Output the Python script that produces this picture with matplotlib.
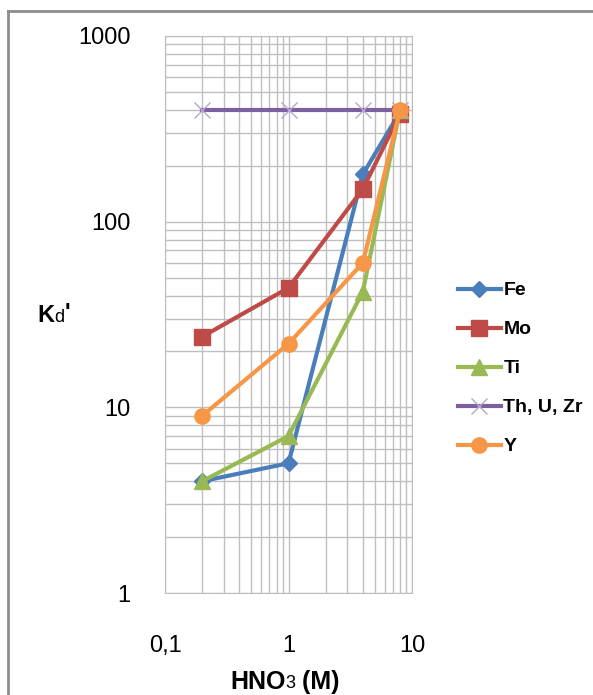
import matplotlib
matplotlib.use("Agg")
import matplotlib.pyplot as plt
from matplotlib.lines import Line2D
from matplotlib.ticker import FixedLocator, LogLocator, NullFormatter, FixedFormatter

plt.rcParams['font.family'] = ['Liberation Sans', 'DejaVu Sans']

# data
hno3 = [0.2, 1, 4, 8]
fe = [4, 5, 180, 390]
mo = [24, 44, 150, 380]
ti = [4, 7, 42, 400]
th_u_zr = [400, 400, 400, 400]
y_el = [9, 22, 60, 400]

x_ticks = [0.1, 1, 10]
x_labels = ["0,1", "1", "10"]
y_ticks = [1, 10, 100, 1000]
y_labels = ["1", "10", "100", "1000"]

W, H = 593, 695
fig = plt.figure(figsize=(W / 100, H / 100), dpi=100)
ax = fig.add_axes([165 / W, (H - 593) / H, (412 - 165) / W, (593 - 36) / H])

ax.plot(hno3, fe, color='#4A7EBB', lw=3, marker='D', ms=8, label='Fe', zorder=3)
ax.plot(hno3, mo, color='#BE4B48', lw=3, marker='s', ms=11, label='Mo', zorder=3)
ax.plot(hno3, ti, color='#98B954', lw=3, marker='^', ms=11, label='Ti', zorder=3)
ax.plot(hno3, th_u_zr, color='#7D60A0', lw=3, marker='x', ms=12, mew=1,
        mec='#B9A6D0', label='Th, U, Zr', zorder=3)
ax.plot(hno3, y_el, color='#F79646', lw=3, marker='o', ms=11, label='Y', zorder=4)

ax.set_xscale('log')
ax.set_yscale('log')
ax.set_xlim(0.1, 10)
ax.set_ylim(1, 1000)

ax.xaxis.set_major_locator(FixedLocator(x_ticks))
ax.xaxis.set_major_formatter(FixedFormatter(x_labels))
ax.yaxis.set_major_locator(FixedLocator(y_ticks))
ax.yaxis.set_major_formatter(FixedFormatter(y_labels))
for a in (ax.xaxis, ax.yaxis):
    a.set_minor_locator(LogLocator(base=10, subs=range(2, 10)))
    a.set_minor_formatter(NullFormatter())

ax.grid(True, which='both', color='#BFBFBF', lw=1)
ax.set_axisbelow(True)
ax.tick_params(which='both', length=0, labelsize=17, colors='black')
ax.tick_params(axis='y', pad=25)
ax.tick_params(axis='x', pad=30)
for s in ax.spines.values():
    s.set_color('#BFBFBF')

leg = fig.legend(loc='upper left', bbox_to_anchor=(450 / W, 1 - 274 / H),
                 frameon=False, handlelength=2.2, handletextpad=0.15,
                 labelspacing=1.1, borderaxespad=0,
                 prop={'weight': 'bold', 'size': 14})


def chain(x, y, pieces):
    # place text pieces one after another, left to right (pixel coords from top-left)
    fig.canvas.draw()
    r = fig.canvas.get_renderer()
    for s, size, weight, dy in pieces:
        t = fig.text(x / W, 1 - (y + dy) / H, s, fontsize=size, fontweight=weight,
                     va='center', ha='left')
        x += t.get_window_extent(r).width


chain(37, 316, [("K", 17, 'bold', 0), ("d", 13, 'normal', 1), ("'", 17, 'bold', -2)])
chain(230, 682, [("HNO", 18, 'bold', 0), ("3", 13, 'normal', 2), (" (M)", 18, 'bold', 0)])

# outer chart border (partly cropped in the picture)
fig.add_artist(Line2D([7.5 / W, 7.5 / W], [0, 1 - 11 / H], color='#8C8C8C', lw=2,
                      transform=fig.transFigure))
fig.add_artist(Line2D([7.5 / W, 1], [1 - 11 / H, 1 - 11 / H], color='#8C8C8C', lw=2,
                      transform=fig.transFigure))

fig.savefig("out.png", dpi=100)
